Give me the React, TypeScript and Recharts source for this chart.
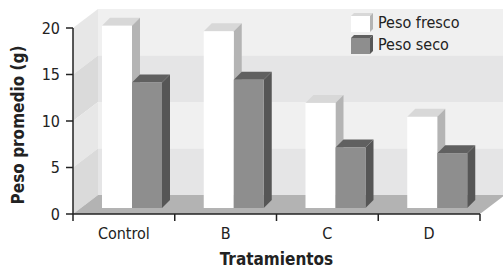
import { Bar, BarChart, XAxis, YAxis, ReferenceArea, Legend } from "recharts"

const categories = ["Control", "B", "C", "D"]
const pesoFresco = [19.6, 19.0, 11.3, 9.8]
const pesoSeco = [13.5, 13.8, 6.5, 5.9]
const yTicks = [0, 5, 10, 15, 20]

const data = categories.map((name, i) => ({ name, fresco: pesoFresco[i], seco: pesoSeco[i] }))

const FONT = "'Liberation Sans Narrow', 'Arial Narrow', 'DejaVu Sans Condensed', sans-serif"
// depth of the back wall and of the bars
const DX = 25
const DY = 19
const BX = 8
const BY = 6
const BD = 8

function WallBand(props: any) {
  const { x, y, width, height, back, side, floor } = props
  const b = y + height
  return (
    <g>
      <rect x={x + DX} y={y - DY} width={width} height={height} fill={back} />
      <polygon points={`${x},${b} ${x},${y} ${x + DX},${y - DY} ${x + DX},${b - DY}`} fill={side} />
      {floor && (
        <polygon
          points={`${x},${b} ${x + width},${b} ${x + width + DX},${b - DY} ${x + DX},${b - DY}`}
          fill="#b3b3b3"
        />
      )}
    </g>
  )
}

function Bar3D(props: any) {
  const { x, y, width, height, front, top, side } = props
  if (!height) return null
  const fx = x + BX
  const fy = y - BY
  const w = width
  return (
    <g>
      <polygon points={`${fx},${fy} ${fx + w},${fy} ${fx + w + BD},${fy - BD} ${fx + BD},${fy - BD}`} fill={top} />
      <polygon
        points={`${fx + w},${fy} ${fx + w + BD},${fy - BD} ${fx + w + BD},${fy + height - BD} ${fx + w},${fy + height}`}
        fill={side}
      />
      <rect x={fx} y={fy} width={w} height={height} fill={front} />
    </g>
  )
}

function CatTick(props: any) {
  const { x, y, payload, index, width } = props
  const band = width / categories.length
  return (
    <g>
      <line x1={x - band / 2} y1={y} x2={x - band / 2} y2={y + 7} stroke="#222" strokeWidth={1.5} />
      {index === categories.length - 1 && (
        <line x1={x + band / 2} y1={y} x2={x + band / 2} y2={y + 7} stroke="#222" strokeWidth={1.5} />
      )}
      <text x={x} y={y + 25} textAnchor="middle" fill="#222" fontSize={16} fontFamily={FONT}>
        {payload.value}
      </text>
    </g>
  )
}

function LegendBox({ front, top, side }: { front: string; top: string; side: string }) {
  return (
    <svg width={24} height={20} style={{ display: "block" }}>
      <polygon points="1,4 20,4 23,1 4,1" fill={top} />
      <polygon points="20,4 23,1 23,17 20,20" fill={side} />
      <rect x={1} y={4} width={19} height={16} fill={front} />
    </svg>
  )
}

function renderLegend() {
  const items = [
    { label: "Peso fresco", front: "#ffffff", top: "#d8d8d8", side: "#b4b4b4" },
    { label: "Peso seco", front: "#8e8e8e", top: "#606060", side: "#565656" },
  ]
  return (
    <div style={{ fontFamily: FONT, fontSize: 16, color: "#222" }}>
      {items.map((it) => (
        <div key={it.label} style={{ display: "flex", alignItems: "center", height: 22 }}>
          <LegendBox front={it.front} top={it.top} side={it.side} />
          <span style={{ marginLeft: 4 }}>{it.label}</span>
        </div>
      ))}
    </div>
  )
}

export default function App() {
  return (
    <div style={{ position: "absolute", left: 0, top: 0, width: 503, height: 270, background: "#fff" }}>
      <BarChart
        width={503}
        height={270}
        data={data}
        margin={{ top: 28, right: 23, bottom: 0, left: 0 }}
        barSize={30}
        barGap={0}
      >
        <ReferenceArea y1={15} y2={20} shape={(p: any) => <WallBand {...p} back="#f0f0f0" side="#e7e7e7" />} />
        <ReferenceArea y1={10} y2={15} shape={(p: any) => <WallBand {...p} back="#e5e5e6" side="#dadada" />} />
        <ReferenceArea y1={5} y2={10} shape={(p: any) => <WallBand {...p} back="#f0f0f0" side="#e7e7e7" />} />
        <ReferenceArea y1={0} y2={5} shape={(p: any) => <WallBand {...p} back="#e5e5e6" side="#dadada" floor />} />
        <XAxis
          dataKey="name"
          height={56}
          tickSize={0}
          tickMargin={0}
          tickLine={false}
          axisLine={{ stroke: "#222", strokeWidth: 1.5 }}
          tick={<CatTick />}
          label={(p: any) => {
            const vb = p.viewBox
            return (
              <text
                x={vb.x + vb.width / 2}
                y={vb.y + 51}
                textAnchor="middle"
                fill="#222"
                fontSize={17}
                fontWeight="bold"
                fontFamily={FONT}
              >
                Tratamientos
              </text>
            )
          }}
        />
        <YAxis
          domain={[0, 20]}
          ticks={yTicks}
          width={73}
          tickSize={7}
          tickMargin={6}
          axisLine={{ stroke: "#222", strokeWidth: 1.5 }}
          tickLine={{ stroke: "#222", strokeWidth: 1.5 }}
          tick={{ fill: "#222", fontSize: 16, fontFamily: FONT }}
          label={(p: any) => {
            const vb = p.viewBox
            return (
              <text
                transform={`translate(${vb.x + 18},${vb.y + vb.height / 2 + 4}) rotate(-90)`}
                textAnchor="middle"
                dominantBaseline="central"
                fill="#222"
                fontSize={17}
                fontWeight="bold"
                fontFamily={FONT}
              >
                Peso promedio (g)
              </text>
            )
          }}
        />
        <Legend
          layout="vertical"
          align="center"
          verticalAlign="middle"
          content={renderLegend}
          wrapperStyle={{ left: 350, top: 11, width: "auto" }}
        />
        <Bar
          dataKey="fresco"
          name="Peso fresco"
          isAnimationActive={false}
          shape={(p: any) => <Bar3D {...p} front="#ffffff" top="#d8d8d8" side="#b4b4b4" />}
        />
        <Bar
          dataKey="seco"
          name="Peso seco"
          isAnimationActive={false}
          shape={(p: any) => <Bar3D {...p} front="#8e8e8e" top="#606060" side="#565656" />}
        />
      </BarChart>
    </div>
  )
}
